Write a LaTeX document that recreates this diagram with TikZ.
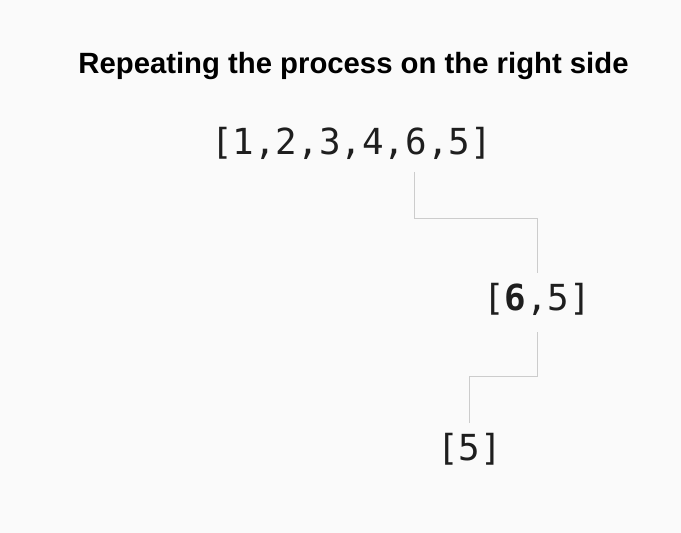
\documentclass[tikz,border=0pt]{standalone}
\usepackage{fontspec}
\setmainfont{Liberation Sans}
\newfontfamily\monofont{DejaVu Sans Mono}
\definecolor{bg}{HTML}{FAFAFA}
\definecolor{ink}{HTML}{1E1E1E}
\definecolor{linec}{HTML}{CCCCCC}
\begin{document}
\begin{tikzpicture}[x=1bp,y=-1bp,
  arr/.style={font=\monofont\fontsize{36}{40}\selectfont, text=ink, inner sep=0pt, anchor=base},
  ttl/.style={font=\bfseries\fontsize{29.4}{32}\selectfont, text=black, inner sep=0pt, anchor=base},
  conn/.style={draw=linec, line width=1bp}]
\fill[bg] (0,0) rectangle (681,533);
\useasboundingbox (0,0) rectangle (681,533);
\node[ttl] (title) at (353.5,74) {Repeating the process on the right side};
\node[arr] (a) at (351.5,155) {[1,2,3,4,6,5]};
\node[arr] (b) at (537,310) {[{\bfseries 6},5]};
\node[arr] (c) at (469.5,460) {[5]};
\coordinate (s1) at (414.5,172);
\coordinate (m1) at (475,218.5);
\coordinate (m2) at (503,376.5);
\draw[conn] (s1) |- (m1) -| ([yshift=10bp]b.north);
\draw[conn] ([yshift=-17bp]b.south) |- (m2) -| ([yshift=10bp]c.north);
\end{tikzpicture}
\end{document}
